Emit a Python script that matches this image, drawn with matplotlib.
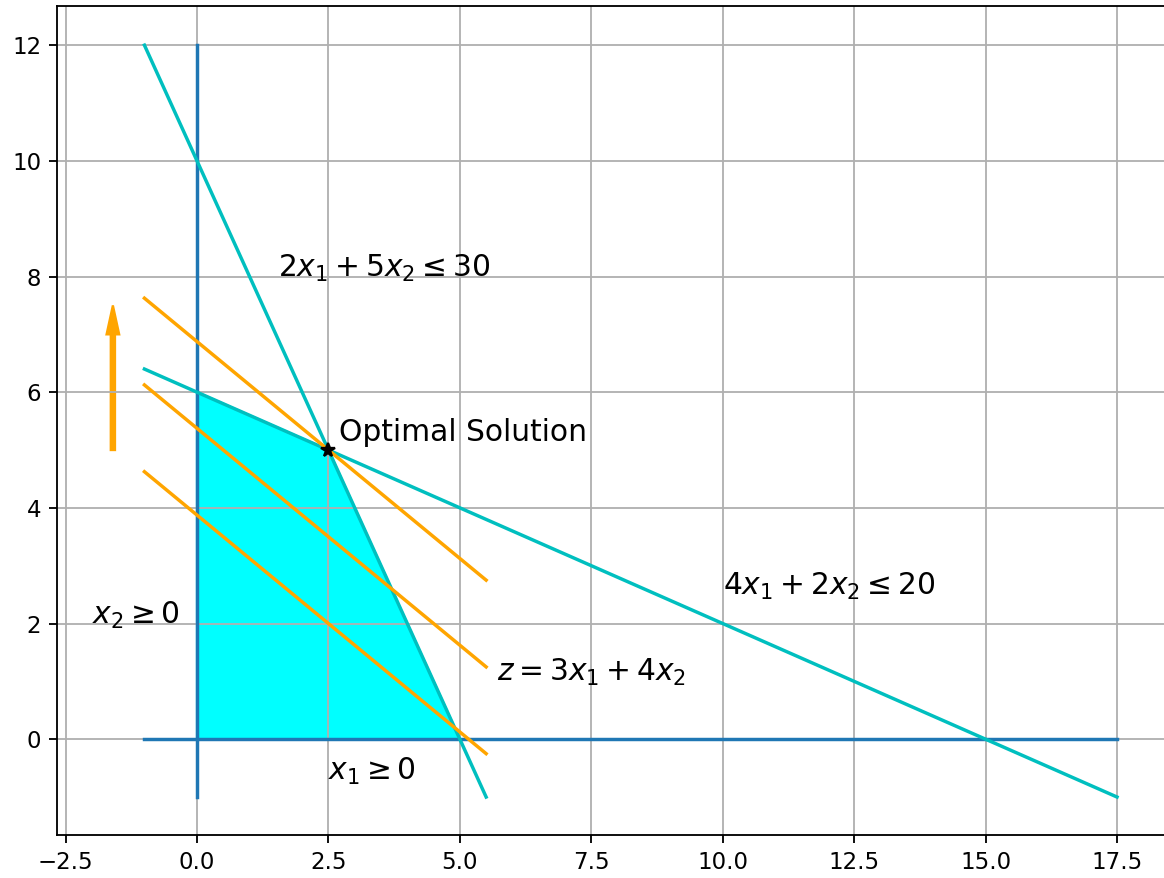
import numpy as np
import matplotlib
matplotlib.use('Agg')
from matplotlib import pyplot as plt

# constraint lines: 2*x1 + x2 = 10 and 2*x1 + 5*x2 = 30
x_steep = np.array([-1., 5.5])
y_steep = 10. - 2.*x_steep
x_flat = np.array([-1., 17.5])
y_flat = (30. - 2.*x_flat)/5.

# non-negativity axes
x1_axis_y = [-1., 12.]
x2_axis_x = [-1., 17.5]

# feasible region corners
region_x = [0., 0., 2.5, 5., 0.]
region_y = [0., 6., 5., 0., 0.]

# objective z = 3*x1 + 4*x2 at a few levels
z_levels = [15.5, 21.5, 27.5]
x_obj = np.array([-1., 5.5])

opt = (2.5, 5.)

dpi = 165
fig = plt.figure(figsize=(1164./dpi, 878./dpi), dpi=dpi)
ax = fig.add_axes([0.0491, 0.0494, 0.9539, 0.9433])

ax.plot([0., 0.], x1_axis_y, color='C0')
ax.plot(x2_axis_x, [0., 0.], color='C0')
ax.plot(x_steep, y_steep, color='c')
ax.plot(x_flat, y_flat, color='c')
ax.fill(region_x, region_y, color='cyan')

for z in z_levels:
    ax.plot(x_obj, (z - 3.*x_obj)/4., color='orange')

ax.arrow(-1.6, 5., 0., 2., width=0.08, head_width=0.24, head_length=0.5,
         color='orange')
ax.plot(opt[0], opt[1], 'k*')

fs = 13
ax.text(2.7, 5.15, 'Optimal Solution', fontsize=fs)
ax.text(1.55, 8., r'$2x_1 + 5x_2 \leq 30$', fontsize=fs)
ax.text(10., 2.5, r'$4x_1 + 2x_2 \leq 20$', fontsize=fs)
ax.text(5.7, 1., r'$z = 3x_1 + 4x_2$', fontsize=fs)
ax.text(-2., 2., r'$x_2 \geq 0$', fontsize=fs)
ax.text(2.5, -0.7, r'$x_1 \geq 0$', fontsize=fs)

ax.set_xlim(-2.66, 18.46)
ax.set_ylim(-1.65, 12.67)
ax.set_xticks(np.arange(-2.5, 18, 2.5))
ax.set_yticks(np.arange(0, 13, 2))
ax.grid()

fig.savefig('out.png', dpi=dpi)
